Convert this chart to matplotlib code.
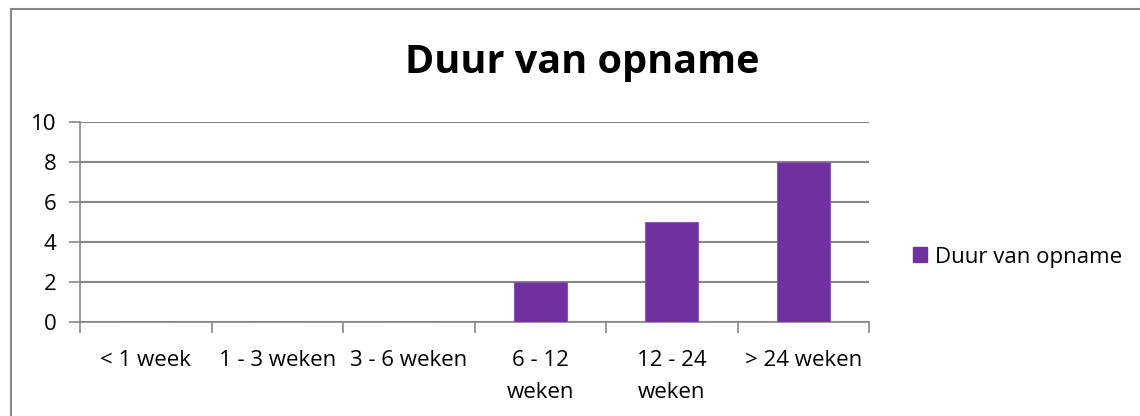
import matplotlib.pyplot as plt
from matplotlib.patches import Rectangle, Patch

CATEGORIES = ["< 1 week", "1 - 3 weken", "3 - 6 weken", "6 - 12\nweken", "12 - 24\nweken", "> 24 weken"]
VALUES     = [0, 0, 0, 2, 5, 8]
SERIES     = "Duur van opname"
BAR_COLOR  = "#7030A0"
GRID_COLOR = "#868686"

plt.rcParams['font.family'] = ['Open Sans', 'DejaVu Sans']

fig = plt.figure(figsize=(11.4, 4.16), dpi=100)
fig.patches.append(Rectangle((11 / 1140, -0.1), 1.2, 1 - 9 / 416 + 0.1, transform=fig.transFigure,
                             fill=False, edgecolor="#888888", linewidth=1.5))

ax = fig.add_axes([80 / 1140, 1 - 322 / 416, 789 / 1140, 200 / 416])
x = range(len(CATEGORIES))
ax.bar(x, VALUES, width=0.4, color=BAR_COLOR, edgecolor="#8a55b8", linewidth=0.8, zorder=3)

ax.set_xlim(-0.5, len(CATEGORIES) - 0.5)
ax.set_ylim(0, 10)
ax.set_yticks(range(0, 11, 2))
ax.yaxis.grid(True, color=GRID_COLOR, linewidth=1.5, zorder=0)
ax.set_axisbelow(True)

# category labels in the middle, ticks on the boundaries
ax.set_xticks(list(x))
ax.set_xticklabels(CATEGORIES, fontsize=16, va="top", linespacing=1.7)
ax.tick_params(axis="x", length=0, pad=20)
ax.set_xticks([i - 0.5 for i in range(len(CATEGORIES) + 1)], minor=True)
ax.tick_params(axis="x", which="minor", length=8, color=GRID_COLOR, width=1.2)
ax.tick_params(axis="y", length=8, color=GRID_COLOR, width=1.2, labelsize=16, pad=9)

for side in ["top", "right"]:
    ax.spines[side].set_visible(False)
for side in ["left", "bottom"]:
    ax.spines[side].set_color(GRID_COLOR)
    ax.spines[side].set_linewidth(1.2)

fig.text(582 / 1140, 1 - 62 / 416, "Duur van opname", ha="center", va="center",
         fontsize=28.5, fontweight="bold")

fig.legend(handles=[Patch(color=BAR_COLOR, label=SERIES)], loc="center left",
           bbox_to_anchor=(893 / 1140, 1 - 257 / 416), frameon=False, fontsize=16,
           handlelength=0.65, handleheight=0.65, handletextpad=0.35)

fig.savefig("out.png", dpi=100)
